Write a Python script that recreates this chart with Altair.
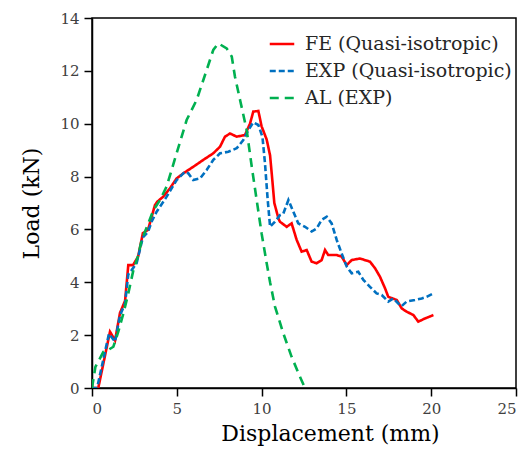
import altair as alt
import pandas as pd

series_names = ["FE (Quasi-isotropic)", "EXP (Quasi-isotropic)", "AL (EXP)"]
colors = ["#FF0000", "#0070C0", "#00B050"]

fe_x = [0, 0.37, 1.06, 1.36, 1.65, 1.95, 2.14, 2.42, 2.72, 3.0, 3.3, 3.52, 3.71, 3.85, 4.2, 4.6, 4.99, 5.38, 5.97, 6.56, 7.15, 7.55, 7.84, 8.14, 8.53, 9.02, 9.32, 9.51, 9.81, 10.0, 10.3, 10.5, 10.6, 10.75, 11.0, 11.08, 11.48, 11.77, 12.07, 12.36, 12.66, 12.95, 13.25, 13.54, 13.74, 13.93, 14.43, 14.72, 15.02, 15.31, 15.8, 16.39, 16.69, 16.98, 17.28, 17.47, 17.97, 18.26, 18.55, 18.95, 19.24, 19.63, 20.13]
fe_y = [0, 0, 2.13, 1.8, 2.84, 3.3, 4.65, 4.65, 4.97, 5.86, 5.98, 6.48, 6.92, 7.05, 7.24, 7.56, 7.93, 8.12, 8.37, 8.63, 8.88, 9.13, 9.51, 9.63, 9.51, 9.57, 10.01, 10.46, 10.48, 9.9, 9.4, 8.8, 8.1, 7.0, 6.4, 6.29, 6.1, 6.23, 5.6, 5.16, 5.22, 4.78, 4.72, 4.84, 5.22, 5.03, 5.03, 4.97, 4.65, 4.84, 4.9, 4.78, 4.53, 4.21, 3.77, 3.45, 3.33, 3.01, 2.89, 2.76, 2.51, 2.63, 2.76]

exp_x = [0, 0.3, 1.0, 1.36, 1.65, 1.95, 2.14, 2.34, 2.63, 3.0, 3.3, 3.52, 3.81, 4.4, 4.99, 5.48, 5.68, 5.97, 6.37, 6.76, 7.15, 7.55, 8.04, 8.53, 8.92, 9.22, 9.51, 9.81, 10.05, 10.2, 10.35, 10.5, 10.79, 11.08, 11.28, 11.58, 11.87, 12.16, 12.56, 12.95, 13.25, 13.54, 13.84, 14.13, 14.43, 14.72, 15.02, 15.31, 15.7, 16.0, 16.39, 16.78, 17.08, 17.47, 17.77, 18.06, 18.26, 18.55, 19.04, 19.44, 19.73, 20.13]
exp_y = [0, 0, 2.05, 1.75, 2.75, 3.2, 4.3, 4.46, 4.72, 5.7, 5.9, 6.3, 6.67, 7.24, 7.87, 8.18, 8.12, 7.87, 7.93, 8.25, 8.63, 8.88, 8.94, 9.07, 9.38, 9.76, 10.05, 9.95, 9.5, 8.5, 7.2, 6.1, 6.29, 6.54, 6.6, 7.11, 6.67, 6.23, 6.1, 5.92, 6.04, 6.36, 6.48, 6.23, 5.6, 5.09, 4.59, 4.34, 4.4, 4.09, 3.83, 3.58, 3.52, 3.27, 3.39, 3.2, 3.1, 3.27, 3.33, 3.39, 3.45, 3.58]

al_x = [0, 0.2, 0.67, 0.96, 1.26, 1.55, 1.85, 2.14, 2.44, 2.73, 2.93, 3.3, 3.62, 4.0, 4.4, 4.99, 5.58, 6.17, 6.76, 7.15, 7.45, 7.94, 8.24, 8.43, 8.73, 9.12, 9.42, 9.71, 10.0, 10.3, 10.5, 10.79, 11.28, 11.77, 12.26, 12.56]
al_y = [0, 0.8, 1.37, 1.44, 1.56, 2.13, 2.82, 3.58, 4.46, 5.03, 5.6, 6.2, 6.73, 7.1, 7.62, 8.88, 10.14, 10.9, 12.03, 12.79, 13.04, 12.85, 12.54, 11.78, 10.9, 9.76, 8.37, 7.11, 5.85, 4.72, 4.0, 3.08, 2.07, 1.18, 0.43, 0]

x_ticks = [0, 5, 10, 15, 20, 25]
y_ticks = [0, 2, 4, 6, 8, 10, 12, 14]

rows = []
for name, xs, ys in zip(series_names, [fe_x, exp_x, al_x], [fe_y, exp_y, al_y]):
    for i, (a, b) in enumerate(zip(xs, ys)):
        rows.append({"series": name, "x": a, "y": b, "i": i})
df = pd.DataFrame(rows)

FONT = "DejaVu Serif"

legend = alt.Legend(title=None, orient="none", legendX=176, legendY=12,
                    symbolType="stroke", symbolSize=600, symbolStrokeWidth=2.6,
                    labelFontSize=19, labelFont=FONT, labelColor="#262626", labelLimit=400,
                    labelOffset=9, rowPadding=3, padding=0)

chart = alt.Chart(df).mark_line(strokeWidth=2.6, clip=True).encode(
    x=alt.X("x:Q", scale=alt.Scale(domain=[0, 25], nice=False),
            axis=alt.Axis(values=x_ticks, title="Displacement (mm)", titleX=238, titlePadding=7)),
    y=alt.Y("y:Q", scale=alt.Scale(domain=[0, 14], nice=False),
            axis=alt.Axis(values=y_ticks, title="Load (kN)", titlePadding=16)),
    color=alt.Color("series:N", scale=alt.Scale(domain=series_names, range=colors), legend=legend),
    strokeDash=alt.StrokeDash("series:N", scale=alt.Scale(domain=series_names, range=[[1, 0], [6, 3], [9, 6]]),
                              legend=legend),
    order="i:Q",
).properties(
    width=424, height=370,
    autosize=alt.AutoSizeParams(type="none"),
    padding={"left": 84, "top": 10, "right": 5, "bottom": 60},
).configure_view(
    stroke="#000", strokeWidth=1.5
).configure_axis(
    grid=False, domainColor="#000", domainWidth=1.5, tickColor="#000", tickWidth=1.5, tickSize=8,
    labelFont=FONT, labelFontSize=15, labelColor="#404040", labelPadding=5,
    titleFont=FONT, titleFontSize=22, titleFontWeight="normal", titleColor="#000"
)

chart.save("out.html", embed_options={"renderer": "svg", "actions": False})
